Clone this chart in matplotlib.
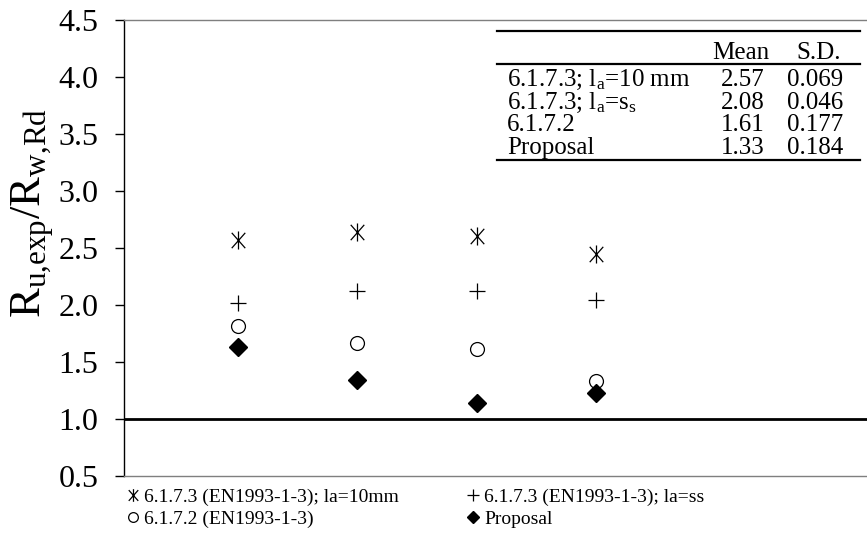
import matplotlib
matplotlib.use("Agg")
import matplotlib.pyplot as plt
from matplotlib.path import Path

plt.rcParams["font.family"] = "Liberation Serif"
plt.rcParams["mathtext.fontset"] = "custom"
plt.rcParams["mathtext.rm"] = "Liberation Serif"
plt.rcParams["mathtext.it"] = "Liberation Serif:italic"

# Test groups along the x axis
groups = [1, 2, 3, 4]

# Resistance ratio for each design method
la_10mm = [2.57, 2.64, 2.605, 2.45]
la_ss = [2.02, 2.12, 2.12, 2.04]
en_6172 = [1.82, 1.67, 1.61, 1.33]
proposal = [1.63, 1.34, 1.14, 1.23]

legend_labels = ["6.1.7.3 (EN1993-1-3); la=10mm", "6.1.7.3 (EN1993-1-3); la=ss",
                 "6.1.7.2 (EN1993-1-3)", "Proposal"]

# Summary table
table_rows = [r"6.1.7.3; l$_\mathrm{a}$=10 mm", r"6.1.7.3; l$_\mathrm{a}$=s$_\mathrm{s}$",
              "6.1.7.2", "Proposal"]
table_mean = ["2.57", "2.08", "1.61", "1.33"]
table_sd = ["0.069", "0.046", "0.177", "0.184"]

yticks = [0.5, 1.0, 1.5, 2.0, 2.5, 3.0, 3.5, 4.0, 4.5]

# asterisk: an X crossed by a vertical stroke
star_marker = Path(
    [(0, -1), (0, 1), (-0.75, -0.85), (0.75, 0.85), (-0.75, 0.85), (0.75, -0.85)],
    [Path.MOVETO, Path.LINETO, Path.MOVETO, Path.LINETO, Path.MOVETO, Path.LINETO])

fig = plt.figure(figsize=(8.67, 5.45), dpi=100)
ax = fig.add_axes([124 / 867, 1 - 476 / 545, 743 / 867, 456 / 545])

h1, = ax.plot(groups, la_10mm, linestyle="none", marker=star_marker, markersize=13,
              color="black", markeredgewidth=0.9)
h2, = ax.plot(groups, la_ss, linestyle="none", marker="+", markersize=12,
              color="black", markeredgewidth=0.9)
h3, = ax.plot(groups, en_6172, linestyle="none", marker="o", markersize=10,
              markerfacecolor="white", markeredgecolor="black", markeredgewidth=0.9)
h4, = ax.plot(groups, proposal, linestyle="none", marker="D", markersize=9,
              color="black")

ax.axhline(1.0, color="black", linewidth=2.0, zorder=1)

ax.set_xlim(0.045, 6.27)
ax.set_ylim(0.5, 4.5)
ax.set_yticks(yticks)
ax.set_yticklabels([f"{v:.1f}" for v in yticks])
ax.set_xticks([])
ax.tick_params(axis="y", direction="out", length=6.5, width=1.0, pad=12,
               labelsize=23, colors="black")

ax.spines["right"].set_visible(False)
ax.spines["left"].set_color("black")
ax.spines["left"].set_linewidth(1.0)
for side in ["top", "bottom"]:
    ax.spines[side].set_color("#7f7f7f")
    ax.spines[side].set_linewidth(1.0)

fig.text(33 / 867, 1 - 213 / 545, r"$\mathrm{R_{u{,}exp}/R_{w{,}Rd}}$",
         rotation=90, ha="center", va="center", fontsize=32)

# Summary table drawn inside the axes
x0, x1 = 0.502, 0.9906
for yl in [0.976, 0.903, 0.693]:
    ax.plot([x0, x1], [yl, yl], transform=ax.transAxes, color="black",
            linewidth=1.6, clip_on=False)
ax.text(0.830, 0.927, "Mean", transform=ax.transAxes, ha="center", va="center", fontsize=18)
ax.text(0.935, 0.927, "S.D.", transform=ax.transAxes, ha="center", va="center", fontsize=18)
row_y = [0.869, 0.819, 0.770, 0.719]
for label, m, s, yy in zip(table_rows, table_mean, table_sd, row_y):
    ax.text(0.5155, yy, label, transform=ax.transAxes, ha="left", va="center", fontsize=18)
    ax.text(0.833, yy, m, transform=ax.transAxes, ha="center", va="center", fontsize=18)
    ax.text(0.930, yy, s, transform=ax.transAxes, ha="center", va="center", fontsize=18)

handles = [h1, h2, h3, h4]
leg = fig.legend([handles[0], handles[2], handles[1], handles[3]],
                 [legend_labels[0], legend_labels[2], legend_labels[1], legend_labels[3]],
                 ncol=2, loc="upper left", bbox_to_anchor=(128 / 867, 1 - 488 / 545),
                 frameon=False, fontsize=14, handlelength=0.5, handletextpad=0.3,
                 columnspacing=3.6, labelspacing=0.25, markerscale=0.7,
                 borderaxespad=0, borderpad=0)

fig.savefig("out.png", dpi=100)
